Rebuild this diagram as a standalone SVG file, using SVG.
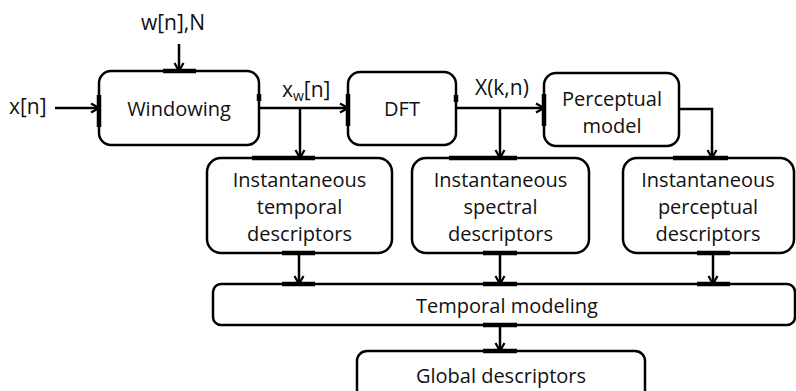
<svg xmlns="http://www.w3.org/2000/svg" width="796" height="391" viewBox="0 0 796 391">
<style>
.box{fill:#fff;stroke:#000;stroke-width:2.5}
.t{font-family:"Open Sans","Liberation Sans",sans-serif;font-size:20px;fill:#111;text-anchor:middle}
.s{font-family:"Open Sans","Liberation Sans",sans-serif;font-size:21px;fill:#111}
.c{fill:none;stroke:#000;stroke-width:2.5}
.tick{stroke:#000;stroke-width:4.5;fill:none}
</style>
<defs>
<marker id="arr" viewBox="0 0 12 12" refX="11" refY="6" markerWidth="12" markerHeight="12" markerUnits="userSpaceOnUse" orient="auto">
<polyline points="3,1.5 11,6 3,10.5" fill="none" stroke="#000" stroke-width="2.2"/>
</marker>
</defs>
<g id="windowing"><rect class="box" x="99" y="71" width="160" height="74" rx="12"/><text class="t" x="179" y="116">Windowing</text></g>
<g id="dft"><rect class="box" x="348" y="72" width="108" height="73" rx="12"/><text class="t" x="402" y="116">DFT</text></g>
<g id="perceptual-model"><rect class="box" x="544" y="73" width="135" height="73" rx="12"/><text class="t" x="612" y="106">Perceptual</text><text class="t" x="612" y="133">model</text></g>
<g id="temporal-desc"><rect class="box" x="207" y="158" width="185" height="95" rx="14"/><text class="t" x="299.5" y="187">Instantaneous</text><text class="t" x="299.5" y="214">temporal</text><text class="t" x="299.5" y="241">descriptors</text></g>
<g id="spectral-desc"><rect class="box" x="412" y="158" width="177" height="95" rx="14"/><text class="t" x="500.5" y="187">Instantaneous</text><text class="t" x="500.5" y="214">spectral</text><text class="t" x="500.5" y="241">descriptors</text></g>
<g id="perceptual-desc"><rect class="box" x="623" y="158" width="171" height="95" rx="14"/><text class="t" x="708" y="187">Instantaneous</text><text class="t" x="708" y="214">perceptual</text><text class="t" x="708" y="241">descriptors</text></g>
<g id="temporal-modeling"><rect class="box" x="213" y="284" width="582" height="41" rx="8"/><text class="t" x="507" y="313">Temporal modeling</text></g>
<g id="global-desc"><rect class="box" x="357" y="351" width="288" height="60" rx="10"/><text class="t" x="501" y="383">Global descriptors</text></g>
<g id="labels">
<text class="s" x="9" y="114">x[n]</text>
<text class="s" x="173" y="30" text-anchor="middle">w[n],N</text>
<text class="s" x="282" y="97">x<tspan font-size="14" dy="4">w</tspan><tspan dy="-4">[n]</tspan></text>
<text class="s" x="475" y="95" font-size="22">X(k,n)</text>
</g>
<g id="connectors">
<path class="c" d="M55,108 H99" marker-end="url(#arr)"/>
<path class="c" d="M179,44 V71" marker-end="url(#arr)"/>
<path class="c" d="M259,108 H348" marker-end="url(#arr)"/>
<path class="c" d="M300,108 V158" marker-end="url(#arr)"/>
<path class="c" d="M456,108 H544" marker-end="url(#arr)"/>
<path class="c" d="M500,108 V158" marker-end="url(#arr)"/>
<path class="c" d="M679,109 H712 V158" marker-end="url(#arr)"/>
<path class="c" d="M299,253 V284" marker-end="url(#arr)"/>
<path class="c" d="M500,253 V284" marker-end="url(#arr)"/>
<path class="c" d="M713,253 V284" marker-end="url(#arr)"/>
<path class="c" d="M500,325 V351" marker-end="url(#arr)"/>
<g id="ticks">
<path class="tick" d="M163,71 H196 M99,95 V127 M259,94 V101 M348,94 V126 M456,95 V102 M544,94 V126"/>
<path class="tick" d="M252,158 H315 M282,253 H315 M449,158 H517 M483,253 H517 M673,158 H728 M697,253 H730"/>
<path class="tick" d="M282,284 H315 M483,284 H517 M697,284 H730 M483,325 H517 M483,351 H517"/>
</g>
</g>
</svg>
